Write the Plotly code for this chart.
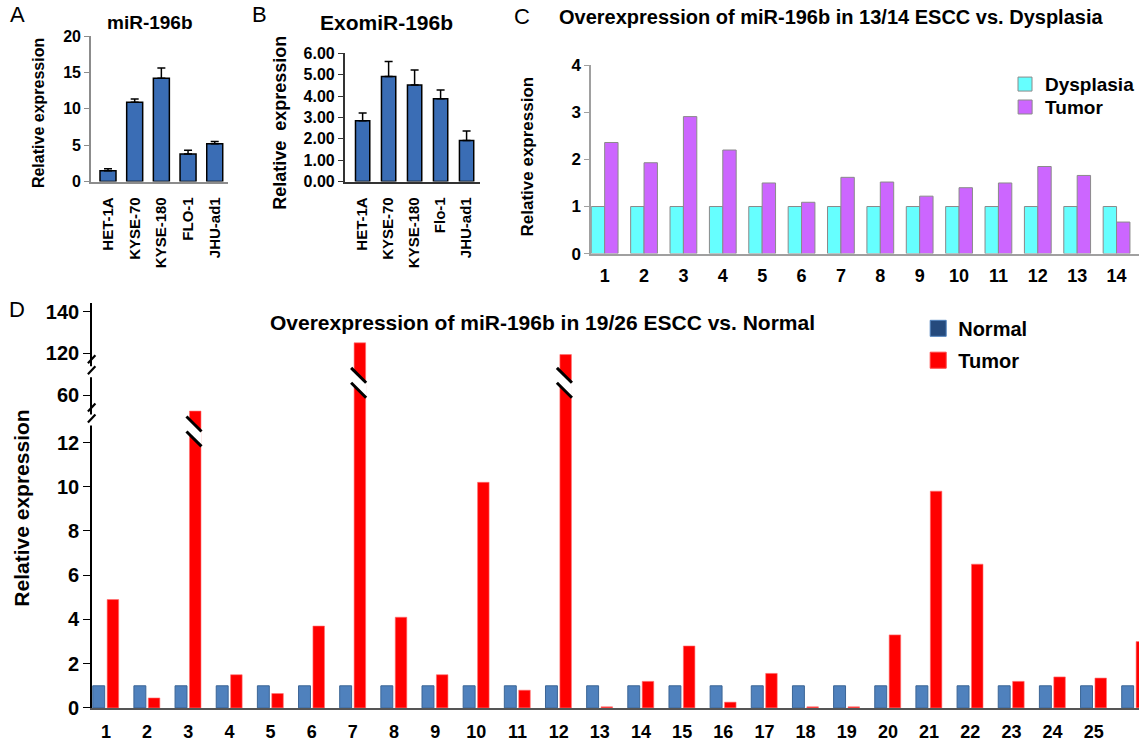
import plotly.graph_objects as go

# ---------------- data ----------------
cell_lines_A = ["HET-1A", "KYSE-70", "KYSE-180", "FLO-1", "JHU-ad1"]
mir196b_A = [1.5, 10.9, 14.2, 3.8, 5.2]
mir196b_A_err = [0.25, 0.45, 1.4, 0.5, 0.3]

cell_lines_B = ["HET-1A", "KYSE-70", "KYSE-180", "Flo-1", "JHU-ad1"]
exomir_B = [2.84, 4.92, 4.52, 3.88, 1.92]
exomir_B_err = [0.37, 0.70, 0.70, 0.40, 0.45]

cases_C = list(range(1, 15))
dysplasia_C = [1] * 14
tumor_C = [2.36, 1.93, 2.91, 2.20, 1.50, 1.09, 1.62, 1.52, 1.22, 1.40, 1.50, 1.85, 1.66, 0.67]

samples_D = list(range(1, 27))
normal_D = [1] * 26
tumor_D = [4.9, 0.45, 44, 1.5, 0.65, 3.7, 125, 4.1, 1.5, 10.2, 0.8, 118, 0.05,
           1.2, 2.8, 0.26, 1.56, 0.05, 0.05, 3.3, 9.8, 6.5, 1.2, 1.4, 1.35, 3.0]
ticks_D = [0, 2, 4, 6, 8, 10, 12, 60, 120, 140]

# ---------------- helpers ----------------
W, H = 1140, 742
FONT = "Liberation Sans, Arial, sans-serif"
Y_SHIFT, Y_SCALE = 9.5, 0.9726   # vertical calibration of the layout grid


def px_x(p):
    return p / W


def px_y(p):
    return 1 - ((p - Y_SHIFT) / Y_SCALE) / H


# broken-axis transform for panel D (display units: 1 unit = value 1 below 12)
D60, D120, D140 = 14.13, 16.04, 17.91


def disp(v):
    if v <= 12:
        return v
    if v <= 60:
        return 12 + (v - 12) * (D60 - 12) / 48
    if v <= 120:
        return D60 + (v - 60) * (D120 - D60) / 60
    return D120 + (v - 120) * (D140 - D120) / 20


BAR_BLUE = "#3a6db5"
fig = go.Figure()

# Panel A
fig.add_trace(go.Bar(
    x=cell_lines_A, y=mir196b_A, width=0.6,
    marker=dict(color=BAR_BLUE, line=dict(color="black", width=1.5)),
    error_y=dict(type="data", array=mir196b_A_err, arrayminus=[0] * 5, symmetric=False,
                 color="black", thickness=1.5, width=4),
    xaxis="x", yaxis="y", showlegend=False))

# Panel B
fig.add_trace(go.Bar(
    x=cell_lines_B, y=exomir_B, width=0.55,
    marker=dict(color=BAR_BLUE, line=dict(color="black", width=1.5)),
    error_y=dict(type="data", array=exomir_B_err, arrayminus=[0] * 5, symmetric=False,
                 color="black", thickness=1.5, width=4),
    xaxis="x2", yaxis="y2", showlegend=False))

# Panel C
fig.add_trace(go.Bar(
    x=cases_C, y=dysplasia_C, width=0.34, offset=-0.34,
    marker=dict(color="#66ffff", line=dict(color="#8a8a8a", width=1)),
    xaxis="x3", yaxis="y3", showlegend=False))
fig.add_trace(go.Bar(
    x=cases_C, y=tumor_C, width=0.34, offset=0.0,
    marker=dict(color="#cc66ff", line=dict(color="#8a8a8a", width=1)),
    xaxis="x3", yaxis="y3", showlegend=False))
fig.add_trace(go.Scatter(
    x=[None], y=[None], mode="markers", name="Dysplasia", legend="legend",
    marker=dict(symbol="square", size=14, color="#66ffff", line=dict(color="#8a8a8a", width=1)),
    xaxis="x3", yaxis="y3"))
fig.add_trace(go.Scatter(
    x=[None], y=[None], mode="markers", name="Tumor", legend="legend2",
    marker=dict(symbol="square", size=14, color="#cc66ff", line=dict(color="#8a8a8a", width=1)),
    xaxis="x3", yaxis="y3"))

# Panel D
fig.add_trace(go.Bar(
    x=samples_D, y=[disp(v) for v in normal_D], width=0.29, offset=-0.32,
    marker=dict(color="#4f81bd", line=dict(color="#3b6596", width=1)),
    xaxis="x4", yaxis="y4", showlegend=False))
fig.add_trace(go.Bar(
    x=samples_D, y=[disp(v) for v in tumor_D], width=0.28, offset=0.03,
    marker=dict(color="#ff0000", line=dict(color="#ff7070", width=0.6)),
    xaxis="x4", yaxis="y4", showlegend=False))
fig.add_trace(go.Scatter(
    x=[None], y=[None], mode="markers", name="Normal", legend="legend3",
    marker=dict(symbol="square", size=17, color="#254a7d", line=dict(color="#4f81bd", width=1)),
    xaxis="x4", yaxis="y4"))
fig.add_trace(go.Scatter(
    x=[None], y=[None], mode="markers", name="Tumor", legend="legend4",
    marker=dict(symbol="square", size=17, color="#ff0000", line=dict(color="#ff4040", width=1)),
    xaxis="x4", yaxis="y4"))

bold = lambda s, c="black": dict(family=FONT, size=s, color=c, weight="bold")

common_y = dict(showgrid=False, zeroline=False, showline=True, ticks="outside",
                fixedrange=True)
common_x = dict(showgrid=False, zeroline=False, showline=True, ticks="", fixedrange=True)


def leg(x, y, size):
    return dict(x=px_x(x), y=px_y(y), xanchor="left", yanchor="middle",
                bgcolor="rgba(0,0,0,0)", font=bold(size), itemclick=False,
                itemdoubleclick=False)


layout = dict(
    width=W, height=H, margin=dict(l=0, r=0, t=0, b=0),
    paper_bgcolor="white", plot_bgcolor="white", barmode="overlay",
    font=dict(family=FONT, color="black"),
    xaxis=dict(common_x, domain=[px_x(91), px_x(228)], anchor="y", type="category",
               range=[-0.64, 4.49], linecolor="#8c8c8c", linewidth=1.5, tickangle=-90,
               tickfont=bold(15), ticklabelstandoff=8),
    yaxis=dict(common_y, domain=[px_y(182.7), px_y(36.7)], anchor="x", range=[0, 20],
               tickvals=[0, 5, 10, 15, 20], linecolor="#8c8c8c", linewidth=1.5,
               tickcolor="#8c8c8c", ticklen=5, tickfont=bold(16)),
    xaxis2=dict(common_x, domain=[px_x(345), px_x(480)], anchor="y2", type="category",
                range=[-0.69, 4.5], linecolor="#333333", linewidth=1.5, tickangle=-90,
                tickfont=bold(15), ticklabelstandoff=8),
    yaxis2=dict(common_y, domain=[px_y(182.7), px_y(54)], anchor="x2", range=[0, 6],
                tickvals=[0, 1, 2, 3, 4, 5, 6], tickformat=".2f", linecolor="#333333",
                linewidth=1.5, tickcolor="#333333", ticklen=5, tickfont=bold(16)),
    xaxis3=dict(common_x, domain=[px_x(591.6), 1], anchor="y3", range=[0.655, 14.57],
                tickvals=cases_C, ticktext=[str(c) for c in cases_C], linecolor="#a0a0a0",
                linewidth=1.5, tickfont=bold(18), ticklabelstandoff=5),
    yaxis3=dict(common_y, domain=[px_y(255), px_y(66)], anchor="x3", range=[0, 4],
                tickvals=[0, 1, 2, 3, 4], linecolor="#a0a0a0", linewidth=1.5,
                tickcolor="#a0a0a0", ticklen=5, tickfont=bold(17)),
    xaxis4=dict(common_x, domain=[px_x(92), 1], anchor="y4", range=[0.66, 26.1],
                tickvals=samples_D, ticktext=[str(s) for s in samples_D], linecolor="#555555",
                linewidth=1.5, tickfont=bold(18), ticklabelstandoff=7),
    yaxis4=dict(common_y, domain=[px_y(711), px_y(305)], anchor="x4", range=[0, 18.29],
                tickvals=[disp(t) for t in ticks_D], ticktext=[str(t) for t in ticks_D],
                linecolor="black", linewidth=1.5, tickcolor="black", ticklen=7,
                tickfont=bold(20)),
    legend=leg(1006, 85, 19),
    legend2=leg(1006, 108, 19),
    legend3=leg(919, 330, 20),
    legend4=leg(919, 362, 20),
)
fig.update_layout(**layout)

# ---------------- annotations (titles / labels) ----------------
ann = []


def add_text(text, x, y, size, weight="bold", angle=0):
    ann.append(dict(text=text, x=px_x(x), y=px_y(y), xref="paper", yref="paper",
                    showarrow=False, xanchor="center", yanchor="middle", textangle=angle,
                    font=dict(family=FONT, size=size, color="black", weight=weight)))


add_text("A", 18, 15, 22, "normal")
add_text("B", 260, 15, 22, "normal")
add_text("C", 522, 17, 22, "normal")
add_text("D", 17, 311, 22, "normal")
add_text("miR-196b", 150, 23, 19)
add_text("ExomiR-196b", 387, 23, 21)
add_text("Overexpression of miR-196b in 13/14 ESCC vs. Dysplasia", 832, 18, 20)
add_text("Overexpression of miR-196b in 19/26 ESCC vs. Normal", 543, 324, 21)
add_text("Relative expression", 38, 114, 16, angle=-90)
add_text("Relative  expression", 280, 124, 18, angle=-90)
add_text("Relative expression", 528, 158, 17, angle=-90)
add_text("Relative expression", 22, 510, 21, angle=-90)
fig.update_layout(annotations=ann)

# ---------------- break marks (panel D) ----------------
shapes = []
dy = 1 / 22.2   # display units per pixel (y)
dx = 1 / 41.2   # x units per pixel
# on the y axis, between scale segments
for yc in [(12 + D60) / 2 - 0.02, (D60 + D120) / 2 + 0.14]:
    shapes.append(dict(type="line", xref="paper", yref="y4", x0=px_x(92), x1=px_x(92),
                       y0=yc - 6 * dy, y1=yc + 5 * dy, line=dict(color="white", width=5)))
    for off in (3, -8):
        shapes.append(dict(type="line", xref="paper", yref="y4",
                           x0=px_x(88), x1=px_x(95.5),
                           y0=yc - off * dy, y1=yc - off * dy + 8 * dy,
                           line=dict(color="black", width=2.2)))
# on the bars that exceed the linear part of the axis
for c, v in zip(samples_D, tumor_D):
    if v > 12:
        L, R = c + 0.03 - 3 * dx, c + 0.31 + 0.5 * dx
        yc = 12.5 if v <= 60 else 14.7
        shapes.append(dict(type="path", xref="x4", yref="y4",
                           path=f"M{L},{yc + 15 * dy} L{R},{yc} L{R},{yc - 15 * dy} L{L},{yc} Z",
                           fillcolor="white", line=dict(width=0)))
        shapes.append(dict(type="line", xref="x4", yref="y4", x0=L, x1=R,
                           y0=yc + 15 * dy, y1=yc, line=dict(color="black", width=3)))
        shapes.append(dict(type="line", xref="x4", yref="y4", x0=L, x1=R,
                           y0=yc, y1=yc - 15 * dy, line=dict(color="black", width=3)))
fig.update_layout(shapes=shapes)

# remove the browser's default 8px page margin so the figure fills the window exactly
fig.write_html("out.html", config={"displayModeBar": False},
               post_script="document.body.style.margin='0';"
                           "document.body.style.overflow='hidden';"
                           "document.documentElement.style.overflow='hidden';")
